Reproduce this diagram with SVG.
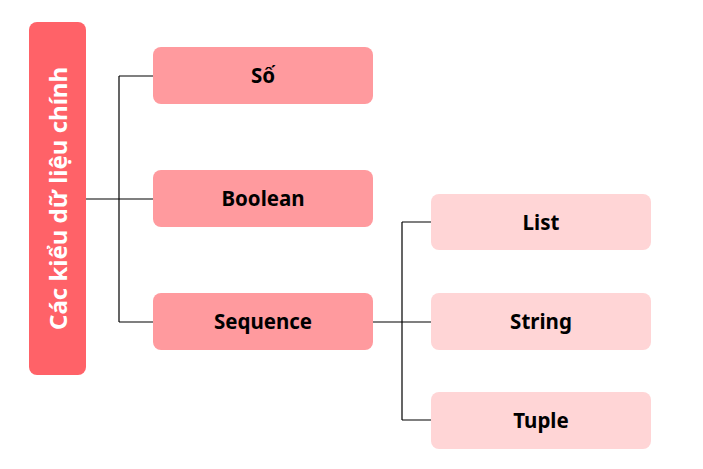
<svg xmlns="http://www.w3.org/2000/svg" width="703" height="469" viewBox="0 0 703 469">
<style>
.root{fill:#FF6268}
.l1{fill:#FF9A9E}
.l2{fill:#FFD5D6}
.t{font-family:"Noto Sans","Open Sans",sans-serif;font-weight:bold;font-size:20.5px;fill:#000;text-anchor:middle;dominant-baseline:central}
.rt{font-family:"Noto Sans","Open Sans",sans-serif;font-weight:bold;font-size:24px;fill:#fff;text-anchor:middle;dominant-baseline:central}
.c{fill:none;stroke:#000;stroke-width:1.2}
</style>
<rect width="703" height="469" fill="#fff"/>
<g id="connectors">
<path class="c" d="M86 199H119M119 76V322M119 76H153M119 199H153M119 322H153"/>
<path class="c" d="M373 322H402M402 222V420M402 222H431M402 322H431M402 420H431"/>
</g>
<g id="root"><rect class="root" x="29" y="22" width="57" height="353" rx="8"/><text class="rt" transform="translate(57.5 198.5) rotate(-90)">Các kiểu dữ liệu chính</text></g>
<g id="so"><rect class="l1" x="153" y="47" width="220" height="57" rx="8"/><text class="t" x="263" y="75">Số</text></g>
<g id="boolean"><rect class="l1" x="153" y="170" width="220" height="57" rx="8"/><text class="t" x="263" y="198">Boolean</text></g>
<g id="sequence"><rect class="l1" x="153" y="293" width="220" height="57" rx="8"/><text class="t" x="263" y="321">Sequence</text></g>
<g id="list"><rect class="l2" x="431" y="194" width="220" height="56" rx="8"/><text class="t" x="541" y="221.5">List</text></g>
<g id="string"><rect class="l2" x="431" y="293" width="220" height="57" rx="8"/><text class="t" x="541" y="321">String</text></g>
<g id="tuple"><rect class="l2" x="431" y="392" width="220" height="57" rx="8"/><text class="t" x="541" y="420">Tuple</text></g>
</svg>
